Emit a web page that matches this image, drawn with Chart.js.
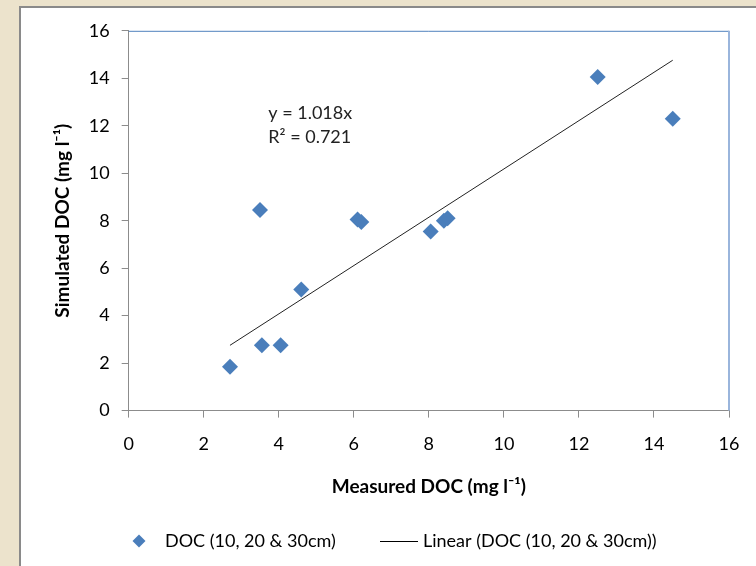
<!DOCTYPE html>
<html>
<head>
<meta charset="utf-8">
<script src="https://cdn.jsdelivr.net/npm/chart.js@4/dist/chart.umd.min.js"></script>
<style>
  html, body { margin: 0; padding: 0; }
  body {
    width: 756px; height: 566px; overflow: hidden; position: relative;
    background: #ece3cc;
  }
  #box {
    position: absolute; left: 19px; top: 6px; width: 745px; height: 570px;
    background: #fff; border-left: 2px solid #8a8a8a; border-top: 2px solid #8a8a8a;
  }
  #wrap { position: absolute; left: 21px; top: 8px; width: 735px; height: 558px; }
</style>
</head>
<body>
<div id="box"></div>
<div id="wrap"><canvas id="chart"></canvas></div>
<script>
// measured vs simulated DOC (mg l-1)
const measured  = [2.7, 3.5, 3.55, 4.05, 4.6, 6.1, 6.2, 8.05, 8.4, 8.5, 12.5, 14.5];
const simulated = [1.85, 8.45, 2.75, 2.75, 5.1, 8.05, 7.95, 7.55, 8.0, 8.1, 14.05, 12.3];

// linear trend end points (y = 1.018x)
const trendX = [2.7, 14.5];
const trendY = [2.75, 14.76];

const axisTicks = [0, 2, 4, 6, 8, 10, 12, 14, 16];
const eqText = ["y = 1.018x", "R² = 0.721"];

const FONT = "Lato, 'Open Sans', sans-serif";
const BLUE = "#4a7ebb";

const extrasPlugin = {
    id: "extras",
    afterDatasetsDraw(chart) {
        const { ctx, scales } = chart;
        const a = chart.chartArea;
        ctx.save();
        // equation text
        ctx.font = "18px " + FONT;
        ctx.fillStyle = "#222";
        ctx.textBaseline = "middle";
        ctx.fillText(eqText[0], scales.x.getPixelForValue(3.72), scales.y.getPixelForValue(12.52));
        ctx.fillText(eqText[1], scales.x.getPixelForValue(3.72), scales.y.getPixelForValue(11.5));
        // top and right frame lines
        ctx.lineWidth = 1;
        ctx.strokeStyle = "#4f81bd";
        ctx.beginPath();
        ctx.moveTo(a.left, a.top + 0.5);
        ctx.lineTo(a.right, a.top + 0.5);
        ctx.stroke();
        ctx.strokeStyle = "#9ab5dc";
        ctx.lineWidth = 2;
        ctx.beginPath();
        ctx.moveTo(a.right, a.top);
        ctx.lineTo(a.right, a.bottom);
        ctx.stroke();

        // legend
        const ds = chart.data.datasets;
        const ly = 533;
        ctx.fillStyle = BLUE;
        ctx.beginPath();
        ctx.moveTo(118 - 6.5, ly);
        ctx.lineTo(118, ly - 6.5);
        ctx.lineTo(118 + 6.5, ly);
        ctx.lineTo(118, ly + 6.5);
        ctx.closePath();
        ctx.fill();
        ctx.fillStyle = "#000";
        ctx.fillText(ds[0].label, 144, ly);
        ctx.strokeStyle = "#000";
        ctx.lineWidth = 1;
        ctx.beginPath();
        ctx.moveTo(359, ly + 0.5);
        ctx.lineTo(397, ly + 0.5);
        ctx.stroke();
        ctx.fillText(ds[1].label, 402, ly);
        ctx.restore();
    }
};

const ctx = document.getElementById("chart").getContext("2d");
new Chart(ctx, {
    type: "scatter",
    data: {
        datasets: [{
            label: "DOC (10, 20 & 30cm)",
            data: measured.map((x, i) => ({ x: x, y: simulated[i] })),
            pointStyle: "rectRot",
            pointRadius: 8,
            pointHoverRadius: 8,
            backgroundColor: BLUE,
            borderColor: BLUE,
            borderWidth: 0,
            order: 1
        }, {
            type: "line",
            label: "Linear (DOC (10, 20 & 30cm))",
            data: trendX.map((x, i) => ({ x: x, y: trendY[i] })),
            borderColor: "#222",
            borderWidth: 1,
            pointRadius: 0,
            fill: false,
            order: 2
        }]
    },
    options: {
        responsive: true,
        maintainAspectRatio: false,
        animation: false,
        layout: { padding: { left: 30, right: 27, top: 22, bottom: 68 } },
        plugins: {
            legend: { display: false },
            tooltip: { enabled: false }
        },
        scales: {
            x: {
                type: "linear",
                min: 0, max: 16,
                afterBuildTicks(scale) { scale.ticks = axisTicks.map(v => ({ value: v })); },
                grid: { drawOnChartArea: false, tickLength: 7, color: "#8c8c8c" },
                border: { color: "#8c8c8c", width: 1 },
                ticks: { color: "#000", font: { family: FONT, size: 18 }, padding: 16 },
                title: {
                    display: true,
                    text: "Measured DOC (mg l⁻¹)",
                    color: "#000",
                    font: { family: FONT, size: 19, weight: "bold" },
                    padding: { top: 4, bottom: 0 }
                }
            },
            y: {
                min: 0, max: 16,
                afterBuildTicks(scale) { scale.ticks = axisTicks.map(v => ({ value: v })); },
                grid: { drawOnChartArea: false, tickLength: 7, color: "#8c8c8c" },
                border: { color: "#8c8c8c", width: 1 },
                ticks: { color: "#000", font: { family: FONT, size: 18 }, padding: 12 },
                title: {
                    display: true,
                    text: "Simulated DOC (mg l⁻¹)",
                    color: "#000",
                    font: { family: FONT, size: 19, weight: "bold" },
                    padding: { top: 0, bottom: 3 }
                }
            }
        }
    },
    plugins: [extrasPlugin]
});
</script>
</body>
</html>
